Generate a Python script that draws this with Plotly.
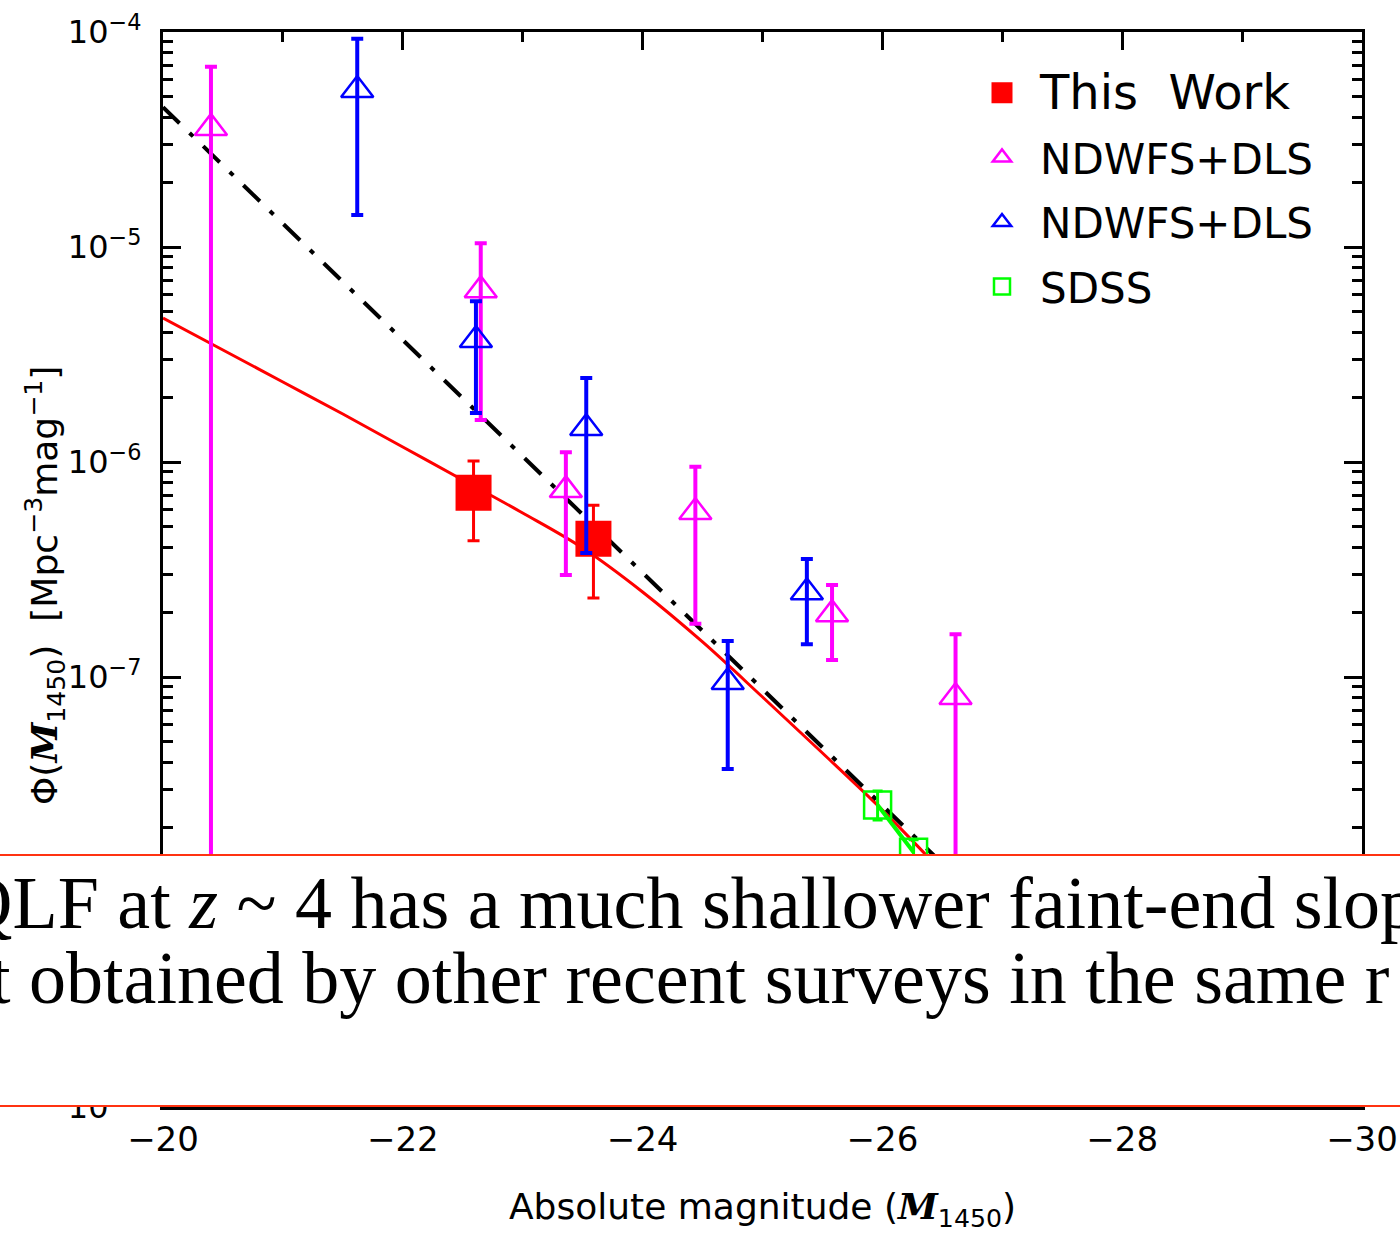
import plotly.graph_objects as go

# ---------------- data ----------------
# This Work (red filled squares)
tw_mag = [-22.59, -23.59]
tw_phi = [7.2e-7, 4.4e-7]
tw_hi = [1.01e-6, 6.3e-7]
tw_lo = [4.3e-7, 2.33e-7]

# NDWFS+DLS (magenta open triangles); lower bound 0 = consistent with zero
nd1_mag = [-20.40, -22.65, -23.36, -24.44, -25.58, -26.61]
nd1_phi = [3.58e-5, 6.3e-6, 7.4e-7, 5.85e-7, 1.96e-7, 8.07e-8]
nd1_hi = [6.9e-5, 1.04e-5, 1.11e-6, 9.5e-7, 2.68e-7, 1.58e-7]
nd1_lo = [0.0, 1.57e-6, 2.98e-7, 1.77e-7, 1.2e-7, 0.0]

# NDWFS+DLS (blue open triangles)
nd2_mag = [-21.62, -22.61, -23.53, -24.71, -25.37]
nd2_phi = [5.37e-5, 3.69e-6, 1.44e-6, 9.48e-8, 2.48e-7]
nd2_hi = [9.3e-5, 5.6e-6, 2.46e-6, 1.47e-7, 3.54e-7]
nd2_lo = [1.41e-5, 1.69e-6, 3.77e-7, 3.73e-8, 1.42e-7]

# SDSS (green open squares)
sdss_mag = [-25.96, -26.26]
sdss_phi = [2.54e-8, 1.53e-8]
sdss_hi = [2.95e-8, 1.75e-8]
sdss_lo = [2.16e-8, 1.33e-8]

# Fitted QLF of this work (red solid curve)
fit_mag = [-20.0, -20.5, -21.0, -21.5, -22.0, -22.5, -23.0, -23.5, -24.0, -24.5,
           -25.0, -25.5, -26.0, -26.5, -27.0, -27.5, -28.0, -28.5]
fit_phi = [4.67e-6, 3.32e-6, 2.355e-6, 1.672e-6, 1.174e-6, 8.25e-7, 5.79e-7, 3.98e-7,
           2.485e-7, 1.455e-7, 8.07e-8, 4.43e-8, 2.405e-8, 1.239e-8, 6.24e-9, 3.11e-9,
           1.55e-9, 7.73e-10]

# Comparison QLF (black dash-dot line)
cmp_mag = [-20.0, -22.0, -24.0, -26.0, -28.0, -29.0]
cmp_phi = [4.47e-5, 3.69e-6, 3.05e-7, 2.54e-8, 2.1e-9, 6.0e-10]

x_ticks = [-20, -22, -24, -26, -28, -30]
y_ticks = [1e-9, 1e-8, 1e-7, 1e-6, 1e-5, 1e-4]
y_ticktext = ["10<sup>\u22129</sup>", "", "10<sup>\u22127</sup>",
              "10<sup>\u22126</sup>", "10<sup>\u22125</sup>", "10<sup>\u22124</sup>"]

caption_lines = [
    "QLF at <i>z</i> ~ 4 has a much shallower faint-end slop",
    "t obtained by other recent surveys in the same r",
]

# ---------------- helpers ----------------
def plus(phi, hi):
    return [h - p for p, h in zip(phi, hi)]

def minus(phi, lo):
    return [p - l for p, l in zip(phi, lo)]

W, H = 1400, 1233
ML, MR, MT, MB = 163, 38, 32, 126
PW, PH = W - ML - MR, H - MT - MB

def px_x(px):
    return (px - ML) / PW

def px_y(py):
    return (H - MB - py) / PH

SANS = "DejaVu Sans"
SERIF_M = '<span style="font-family:DejaVu Serif"><b><i>M</i></b></span>'

fig = go.Figure()

# models
fig.add_trace(go.Scatter(
    x=fit_mag, y=fit_phi, mode="lines", showlegend=False, line_shape="spline",
    line=dict(color="#ff0000", width=3), hoverinfo="skip"))
fig.add_trace(go.Scatter(
    x=cmp_mag, y=cmp_phi, mode="lines", showlegend=False,
    line=dict(color="black", width=4, dash="23px,14px,5px,14px"), hoverinfo="skip"))
fig.add_trace(go.Scatter(
    x=sdss_mag, y=sdss_phi, mode="lines", showlegend=False,
    line=dict(color="#00ff00", width=4), hoverinfo="skip"))

# data
fig.add_trace(go.Scatter(
    x=tw_mag, y=tw_phi, mode="markers",
    name='<span style="font-size:48px">This\u00a0\u00a0Work</span>',
    legendgroup="a",
    marker=dict(symbol="square", size=31, color="#ff0000", line=dict(width=5, color="#ff0000")),
    error_y=dict(type="data", array=plus(tw_phi, tw_hi), arrayminus=minus(tw_phi, tw_lo),
                 color="#ff0000", thickness=3, width=6)))
fig.add_trace(go.Scatter(
    x=nd1_mag, y=nd1_phi, mode="markers", name="NDWFS+DLS", legendgroup="b",
    marker=dict(symbol="triangle-up-open", size=28, color="#ff00ff", line=dict(width=2.5)),
    error_y=dict(type="data", array=plus(nd1_phi, nd1_hi), arrayminus=minus(nd1_phi, nd1_lo),
                 color="#ff00ff", thickness=4, width=6)))
fig.add_trace(go.Scatter(
    x=nd2_mag, y=nd2_phi, mode="markers", name="NDWFS+DLS", legendgroup="c",
    marker=dict(symbol="triangle-up-open", size=28, color="#0000ff", line=dict(width=2.5)),
    error_y=dict(type="data", array=plus(nd2_phi, nd2_hi), arrayminus=minus(nd2_phi, nd2_lo),
                 color="#0000ff", thickness=4, width=6)))
fig.add_trace(go.Scatter(
    x=sdss_mag, y=sdss_phi, mode="markers", name="SDSS", legendgroup="d",
    marker=dict(symbol="square-open", size=27, color="#00ff00", line=dict(width=2.5)),
    error_y=dict(type="data", array=plus(sdss_phi, sdss_hi), arrayminus=minus(sdss_phi, sdss_lo),
                 color="#00ff00", thickness=3, width=5)))

axis_common = dict(
    showline=True, linecolor="black", linewidth=3, mirror="allticks",
    ticks="inside", tickcolor="black", tickwidth=3, ticklen=18,
    showgrid=False, zeroline=False,
)

fig.update_xaxes(
    range=[-20, -30], tickvals=x_ticks, ticktext=[("\u2212%d" % abs(v)) for v in x_ticks],
    minor=dict(ticks="inside", ticklen=10, tickwidth=3, tickcolor="black", dtick=1, tick0=0, showgrid=False),
    tickfont=dict(family=SANS, size=34, color="black"),
    ticklabelstandoff=0,
    title=dict(text="Absolute magnitude (" + SERIF_M + "<sub>1450</sub>)",
               font=dict(family=SANS, size=36, color="black"), standoff=38),
    **axis_common)

fig.update_yaxes(
    type="log", range=[-9, -4], tickvals=y_ticks, ticktext=y_ticktext,
    minor=dict(ticks="inside", ticklen=10, tickwidth=3, tickcolor="black", dtick="D1", showgrid=False),
    tickfont=dict(family=SANS, size=32, color="black"),
    ticklabelstandoff=12,
    **axis_common)

# y-axis title (placed as rotated text so it sits slightly below the plot centre, as in the reference)
fig.add_annotation(
    text="\u03a6(" + SERIF_M + "<sub>1450</sub>)\u00a0 [Mpc<sup>\u22123</sup>mag<sup>\u22121</sup>]",
    xref="paper", yref="paper", x=px_x(45), y=px_y(586), textangle=-90,
    xanchor="center", yanchor="middle", showarrow=False,
    font=dict(family=SANS, size=36, color="black"))

# caption overlay (white band with red rules) covering the lower part of the chart
fig.add_shape(type="rect", xref="paper", yref="paper",
              x0=px_x(-20), x1=px_x(W + 20), y0=px_y(1107), y1=px_y(855),
              fillcolor="white", line=dict(width=0), layer="above")
for yy in (855, 1106):
    fig.add_shape(type="line", xref="paper", yref="paper",
                  x0=px_x(-20), x1=px_x(W + 20), y0=px_y(yy), y1=px_y(yy),
                  line=dict(color="#ff3311", width=2), layer="above")

caption_pos = [(-43, 903), (-12, 978)]
for txt, (cx, cy) in zip(caption_lines, caption_pos):
    fig.add_annotation(text=txt, xref="paper", yref="paper", x=px_x(cx), y=px_y(cy),
                       xanchor="left", yanchor="middle", showarrow=False,
                       font=dict(family="Liberation Serif", size=74, color="black"))

fig.update_layout(
    width=W, height=H,
    margin=dict(l=ML, r=MR, t=MT, b=MB, autoexpand=False),
    paper_bgcolor="white", plot_bgcolor="white",
    legend=dict(x=px_x(964), y=px_y(59), xanchor="left", yanchor="top",
                bgcolor="rgba(0,0,0,0)", borderwidth=0,
                font=dict(family=SANS, size=42, color="black"),
                tracegroupgap=7, itemwidth=66),
)

fig.write_html("out.html")
